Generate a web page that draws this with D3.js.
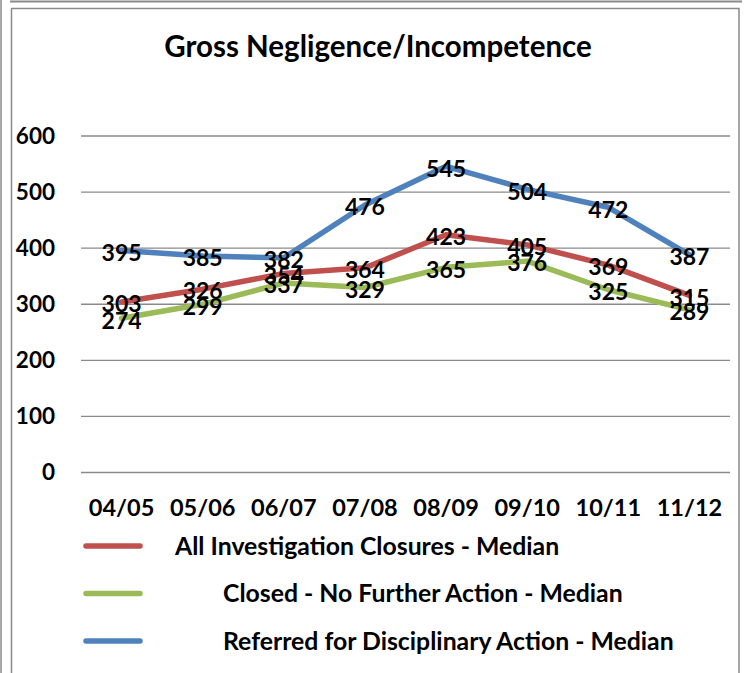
<!DOCTYPE html>
<html lang="en">
<head>
<meta charset="UTF-8">
<title>Gross Negligence/Incompetence</title>
<style>
    body {
        margin: 0;
        background: #fff;
    }
    svg {
        display: block;
        font-family: Lato, "Open Sans", sans-serif;
        font-weight: bold;
    }
    .grid line {
        stroke: #8a8a8a;
        stroke-width: 1.4;
    }
    .grid .domain {
        display: none;
    }
</style>
<script src="https://d3js.org/d3.v7.min.js"></script>
</head>
<body>
<svg width="748" height="673"></svg>
<script>
    // chart data
    const years = ["04/05", "05/06", "06/07", "07/08", "08/09", "09/10", "10/11", "11/12"];
    const allClosures = [303, 326, 354, 364, 423, 405, 369, 315];
    const closedNFA = [274, 299, 337, 329, 365, 376, 325, 289];
    const referred = [395, 385, 382, 476, 545, 504, 472, 387];
    const yTicks = [0, 100, 200, 300, 400, 500, 600];

    const series = [
        { name: "All Investigation Closures - Median", values: allClosures, color: "#c0504d" },
        { name: "Closed - No Further Action - Median", values: closedNFA, color: "#9bbb59" },
        { name: "Referred for Disciplinary Action - Median", values: referred, color: "#4f81bd" }
    ];

    const svg = d3.select("svg");
    const width = 748, height = 673;
    const margin = { top: 135.5, right: 18, bottom: 201, left: 81 };

    // frame like the original screenshot
    svg.append("line")
        .attr("x1", 1).attr("x2", 1).attr("y1", 0).attr("y2", height)
        .attr("stroke", "#8a8a8a").attr("stroke-width", 1.5);
    svg.append("line")
        .attr("x1", 10).attr("x2", 742).attr("y1", 1.5).attr("y2", 1.5)
        .attr("stroke", "#8a8a8a").attr("stroke-width", 2);
    svg.append("rect")
        .attr("x", 11.5).attr("y", 8.5).attr("width", 727.5).attr("height", 680)
        .attr("fill", "none").attr("stroke", "#8a8a8a").attr("stroke-width", 1.5);

    const x = d3.scaleBand()
        .domain(years)
        .range([margin.left, width - margin.right]);

    const y = d3.scaleLinear()
        .domain([0, 600])
        .range([height - margin.bottom, margin.top]);

    const cx = d => x(d) + x.bandwidth() / 2;

    // title
    svg.append("text")
        .attr("x", 378)
        .attr("y", 57)
        .attr("text-anchor", "middle")
        .attr("font-size", 29.5)
        .text("Gross Negligence/Incompetence");

    // gridlines
    svg.append("g")
        .attr("class", "grid")
        .attr("transform", `translate(${margin.left},0)`)
        .call(d3.axisLeft(y).tickValues(yTicks).tickSize(-(width - margin.left - margin.right)).tickFormat(""));

    // y labels
    svg.append("g")
        .selectAll("text")
        .data(yTicks)
        .join("text")
        .attr("x", 55)
        .attr("y", d => y(d))
        .attr("dy", "0.36em")
        .attr("text-anchor", "end")
        .attr("font-size", 22.5)
        .text(d => d);

    // x labels
    svg.append("g")
        .selectAll("text")
        .data(years)
        .join("text")
        .attr("x", d => cx(d))
        .attr("y", 516)
        .attr("text-anchor", "middle")
        .attr("font-size", 23.5)
        .text(d => d);

    const line = d3.line()
        .x((d, i) => cx(years[i]))
        .y(d => y(d));

    svg.append("g")
        .selectAll("path")
        .data(series)
        .join("path")
        .attr("d", d => line(d.values))
        .attr("fill", "none")
        .attr("stroke", d => d.color)
        .attr("stroke-width", 5.5)
        .attr("stroke-linejoin", "round")
        .attr("stroke-linecap", "round");

    // data labels on top of all lines
    series.forEach(s => {
        svg.append("g")
            .selectAll("text")
            .data(s.values)
            .join("text")
            .attr("x", (d, i) => cx(years[i]))
            .attr("y", d => y(d) + 2)
            .attr("dy", "0.36em")
            .attr("text-anchor", "middle")
            .attr("font-size", 23)
            .attr("fill", "#000")
            .text(d => d);
    });

    // legend
    const legendX = [175, 223, 223];
    const legend = svg.append("g")
        .selectAll("g")
        .data(series)
        .join("g")
        .attr("transform", (d, i) => `translate(0,${546 + i * 47.5})`);

    legend.append("line")
        .attr("x1", 86).attr("x2", 140)
        .attr("stroke", d => d.color)
        .attr("stroke-width", 5.5)
        .attr("stroke-linecap", "round");

    legend.append("text")
        .attr("x", (d, i) => legendX[i])
        .attr("dy", "0.36em")
        .attr("font-size", 24.8)
        .text(d => d.name);
</script>
</body>
</html>
